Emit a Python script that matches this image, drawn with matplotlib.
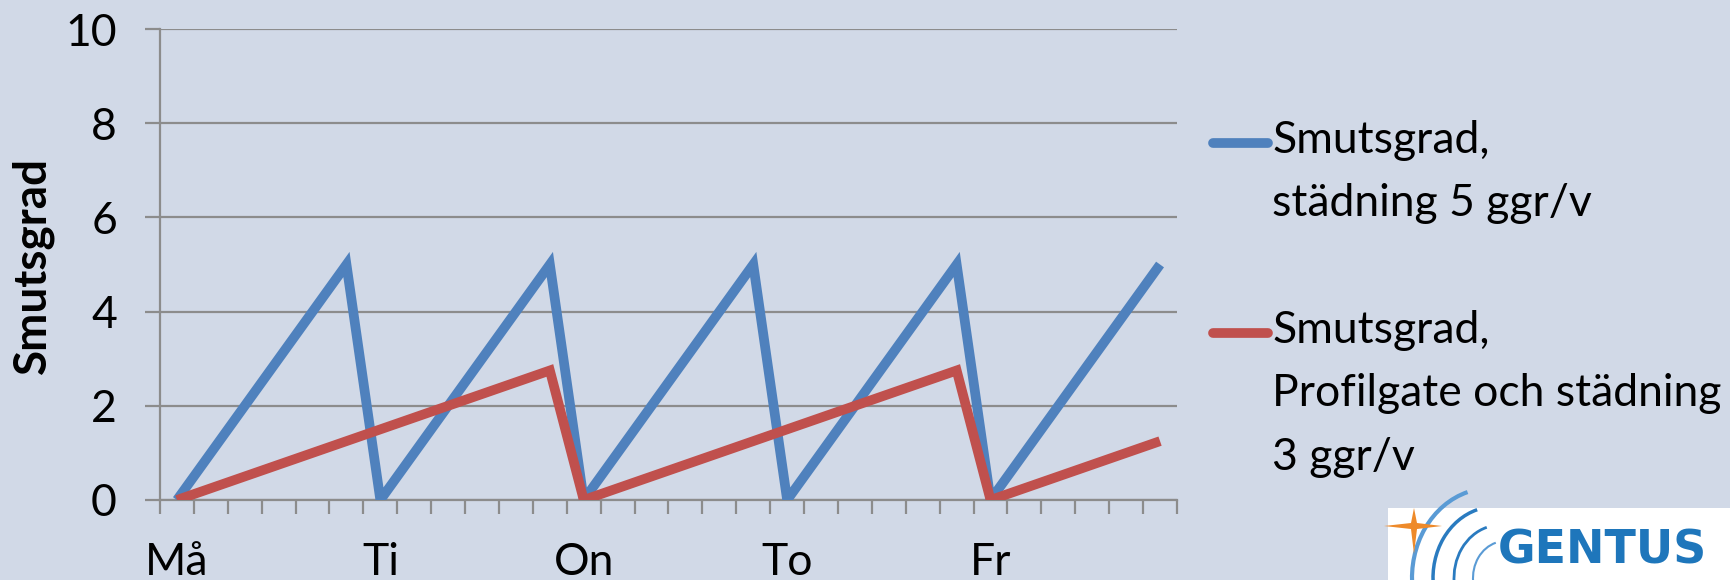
import matplotlib.pyplot as plt
from matplotlib.lines import Line2D
from matplotlib.patches import Arc, Rectangle, Polygon

# dagar som visas pa x-axeln (var sjatte punkt)
dagar = ['Må', 'Ti', 'On', 'To', 'Fr']
punkter_per_dag = 6

smuts_5ggr = [0, 1, 2, 3, 4, 5,
              0, 1, 2, 3, 4, 5,
              0, 1, 2, 3, 4, 5,
              0, 1, 2, 3, 4, 5,
              0, 1, 2, 3, 4, 5]
smuts_profilgate = [0, 0.25, 0.5, 0.75, 1, 1.25,
                    1.5, 1.75, 2, 2.25, 2.5, 2.75,
                    0, 0.25, 0.5, 0.75, 1, 1.25,
                    1.5, 1.75, 2, 2.25, 2.5, 2.75,
                    0, 0.25, 0.5, 0.75, 1, 1.25]

serier = [
    ('Smutsgrad,\nstädning 5 ggr/v', smuts_5ggr, '#4F81BD'),
    ('Smutsgrad,\nProfilgate och städning\n3 ggr/v', smuts_profilgate, '#C0504D'),
]

bg = '#D1D9E7'
gra = '#8C8C8C'
plt.rcParams['font.family'] = ['Lato', 'DejaVu Sans']

W, H = 1731, 580
def fx(px):
    return px / W
def fy(py):
    return 1 - py / H

fig = plt.figure(figsize=(17.31, 5.8), dpi=100, facecolor=bg)
ax = fig.add_axes([fx(160), fy(500), 1017/W, 471/H])
ax.set_facecolor(bg)

x = list(range(len(smuts_5ggr)))
for namn, y, farg in serier:
    ax.plot(x, y, color=farg, lw=7, solid_joinstyle='miter', solid_capstyle='butt', zorder=3)

ax.set_xlim(-0.5, len(x) - 0.5)
ax.set_ylim(0, 10)
ax.set_yticks([0, 2, 4, 6, 8, 10])
ax.yaxis.grid(True, color=gra, lw=1.6)
ax.set_axisbelow(True)

ax.set_xticks([i * punkter_per_dag for i in range(len(dagar))])
ax.set_xticklabels(dagar)
ax.set_xticks([i - 0.5 for i in range(len(x) + 1)], minor=True)
ax.tick_params(axis='x', which='major', length=0, pad=30, labelsize=32)
ax.tick_params(axis='x', which='minor', length=10, width=1.6, color=gra)
ax.tick_params(axis='y', length=11, width=1.6, color=gra, pad=20, labelsize=32)

for s in ['top', 'right']:
    ax.spines[s].set_visible(False)
for s in ['left', 'bottom']:
    ax.spines[s].set_color(gra)
    ax.spines[s].set_linewidth(1.6)

fig.text(fx(33), fy(266), 'Smutsgrad', rotation=90, ha='center', va='center',
         fontsize=33, fontweight='bold')

# legend till hoger, linjen i hojd med forsta raden
leg_y = [143, 333]
for (namn, y, farg), ly in zip(serier, leg_y):
    fig.add_artist(Line2D([fx(1213), fx(1268)], [fy(ly), fy(ly)],
                          color=farg, lw=7, solid_capstyle='round'))
    fig.text(fx(1272), fy(ly - 23), namn, ha='left', va='top',
             fontsize=32, linespacing=1.68)

# logga nere till hoger
fig.add_artist(Rectangle((fx(1388), 0), 1 - fx(1388), 72/H,
                         transform=fig.transFigure, facecolor='white', edgecolor='none'))
for cx, r, w, c in [(1490, 78, 3.0, '#5A9BD5'), (1495, 62, 2.5, '#2A7BC0'),
                    (1500, 46, 2.0, '#2A7BC0'), (1505, 32, 1.5, '#5A9BD5')]:
    fig.add_artist(Arc((fx(cx), fy(578)), 2*r/W, 2*r*1.15/H, theta1=95, theta2=200,
                       transform=fig.transFigure, color=c, lw=w))
# orange stjarna
sx, sy = 1414, 526
stjarna = [(sx - 30, sy), (sx - 3, sy - 3), (sx, sy - 18), (sx + 3, sy - 3),
           (sx + 28, sy), (sx + 3, sy + 3), (sx, sy + 28), (sx - 3, sy + 3)]
fig.add_artist(Polygon([(fx(a), fy(b)) for a, b in stjarna], closed=True,
                       transform=fig.transFigure, facecolor='#EE8A2A', edgecolor='none'))
fig.text(fx(1498), fy(564), 'GENTUS', ha='left', va='baseline', fontsize=33,
         fontweight='bold', family='DejaVu Sans', color='#1E76BB')

fig.savefig('out.png', dpi=100, facecolor=bg)
